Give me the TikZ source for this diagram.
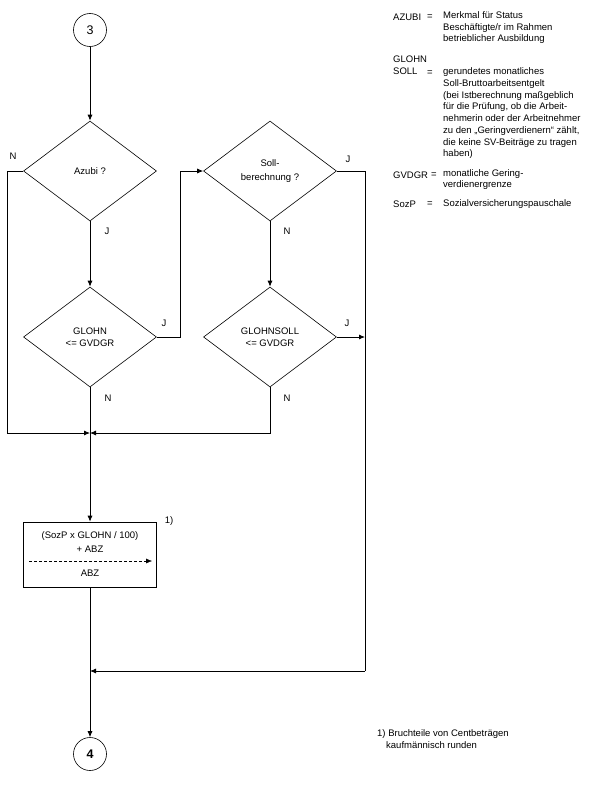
\documentclass[tikz,border=0pt]{standalone}
\usepackage{fontspec}
\setmainfont{Liberation Sans}
\usetikzlibrary{arrows.meta,shapes.geometric}
\begin{document}
\begin{tikzpicture}[x=1pt,y=-1pt,
  every node/.style={font=\fontsize{9.5}{11.7}\selectfont, inner sep=0pt},
  ln/.style={line width=0.8pt},
  arr/.style={ln,-{Latex[length=6pt,width=5pt]}},
  conn/.style={draw, circle, line width=0.6pt, minimum size=33pt, font=\fontsize{12.5}{14}\selectfont},
  dec/.style={draw, diamond, line width=0.6pt, minimum width=133pt, minimum height=100pt, aspect=1.33, align=center},
  lbl/.style={anchor=center},
  txt/.style={anchor=west, align=left}
]
\useasboundingbox (0,0) rectangle (593,787);
\fill[white] (0,0) rectangle (593,787);

% connectors (circles)
\node[conn] (c3) at (90,30) {3};
\node[conn, font=\fontsize{12.5}{14}\selectfont\bfseries] (c4) at (90,754) {4};

% decisions
\node[dec] (d1) at (90,171) {Azubi ?};
\node[dec, font=\fontsize{9.5}{14}\selectfont] (d2) at (270,171) {Soll-\\berechnung ?};
\node[dec] (d3) at (90,337) {GLOHN\\{<}= GVDGR};
\node[dec] (d4) at (270,337) {GLOHNSOLL\\{<}= GVDGR};

% box
\node[draw, line width=0.6pt, minimum width=133pt, minimum height=65pt] (box) at (90,554.5) {};
\node (b1) at (90,536) {(SozP x GLOHN / 100)};
\node (b2) at (90,549) {+ ABZ};
\node (b3) at (90,573) {ABZ};
\coordinate (da) at (29,561);
\coordinate (db) at (152,561);
\draw[densely dashed, line width=0.4pt, -{Latex[length=6pt,width=5pt]}] (da) -- (db);
\node (fn1) at (169,521) {1)};

% join points
\coordinate (j1) at (90,433);
\coordinate (j2) at (90,671);

% flow
\draw[arr] (c3) -- (d1.north);
\draw[arr] (d1.south) -- (d3.north);
\draw[arr] (d1.west) -- (7,171) -- (7,433) -- (j1);
\draw[arr] (d3.east) -- (180,337) -- (180,171) -- (d2.west);
\draw[arr] (d2.south) -- (d4.north);
\draw[ln] (d2.east) -- (365,171) -- (365,671);
\draw[arr] (365,671) -- (j2);
\draw[arr] (d4.east) -- (365,337);
\draw[arr] (d4.south) -- (270,433) -- (j1);
\draw[ln] (d3.south) -- (j1);
\draw[arr] (j1) -- (box.north);
\draw[ln] (box.south) -- (j2);
\draw[arr] (j2) -- (c4.north);

% branch labels
\node[lbl] (n1) at (13,156) {N};
\node[lbl] (y1) at (107,231) {J};
\node[lbl] (y2) at (348,159) {J};
\node[lbl] (n2) at (287,231) {N};
\node[lbl] (y3) at (164,323) {J};
\node[lbl] (n3) at (108,398) {N};
\node[lbl] (y4) at (347,323) {J};
\node[lbl] (n4) at (287,398) {N};

% legend
\node[txt] (l1) at (393,17) {AZUBI};
\node[txt] (l1e) at (427,17) {=};
\node[txt, anchor=north west] (l1t) at (443,11.5) {Merkmal für Status\\Beschäftigte/r im Rahmen\\betrieblicher Ausbildung};

\node[txt, anchor=north west] (l2) at (393,56) {GLOHN\\SOLL};
\node[txt] (l2e) at (427,73.5) {=};
\node[txt, anchor=north west] (l2t) at (443,67.8) {gerundetes monatliches\\Soll-Bruttoarbeitsentgelt\\(bei Istberechnung maßgeblich\\für die Prüfung, ob die Arbeit-\\nehmerin oder der Arbeitnehmer\\zu den „Geringverdienern“ zählt,\\die keine SV-Beiträge zu tragen\\haben)};

\node[txt] (l3) at (393,175) {GVDGR};
\node[txt] (l3e) at (431,175) {=};
\node[txt, anchor=north west] (l3t) at (443,169.2) {monatliche Gering-\\verdienergrenze};

\node[txt] (l4) at (393,204) {SozP};
\node[txt] (l4e) at (427,204) {=};
\node[txt] (l4t) at (443,204) {Sozialversicherungspauschale};

% footnote
\node[txt, anchor=north west] (fn) at (377,729.5) {1) Bruchteile von Centbeträgen\\\hspace*{9pt}kaufmännisch runden};
\end{tikzpicture}
\end{document}
